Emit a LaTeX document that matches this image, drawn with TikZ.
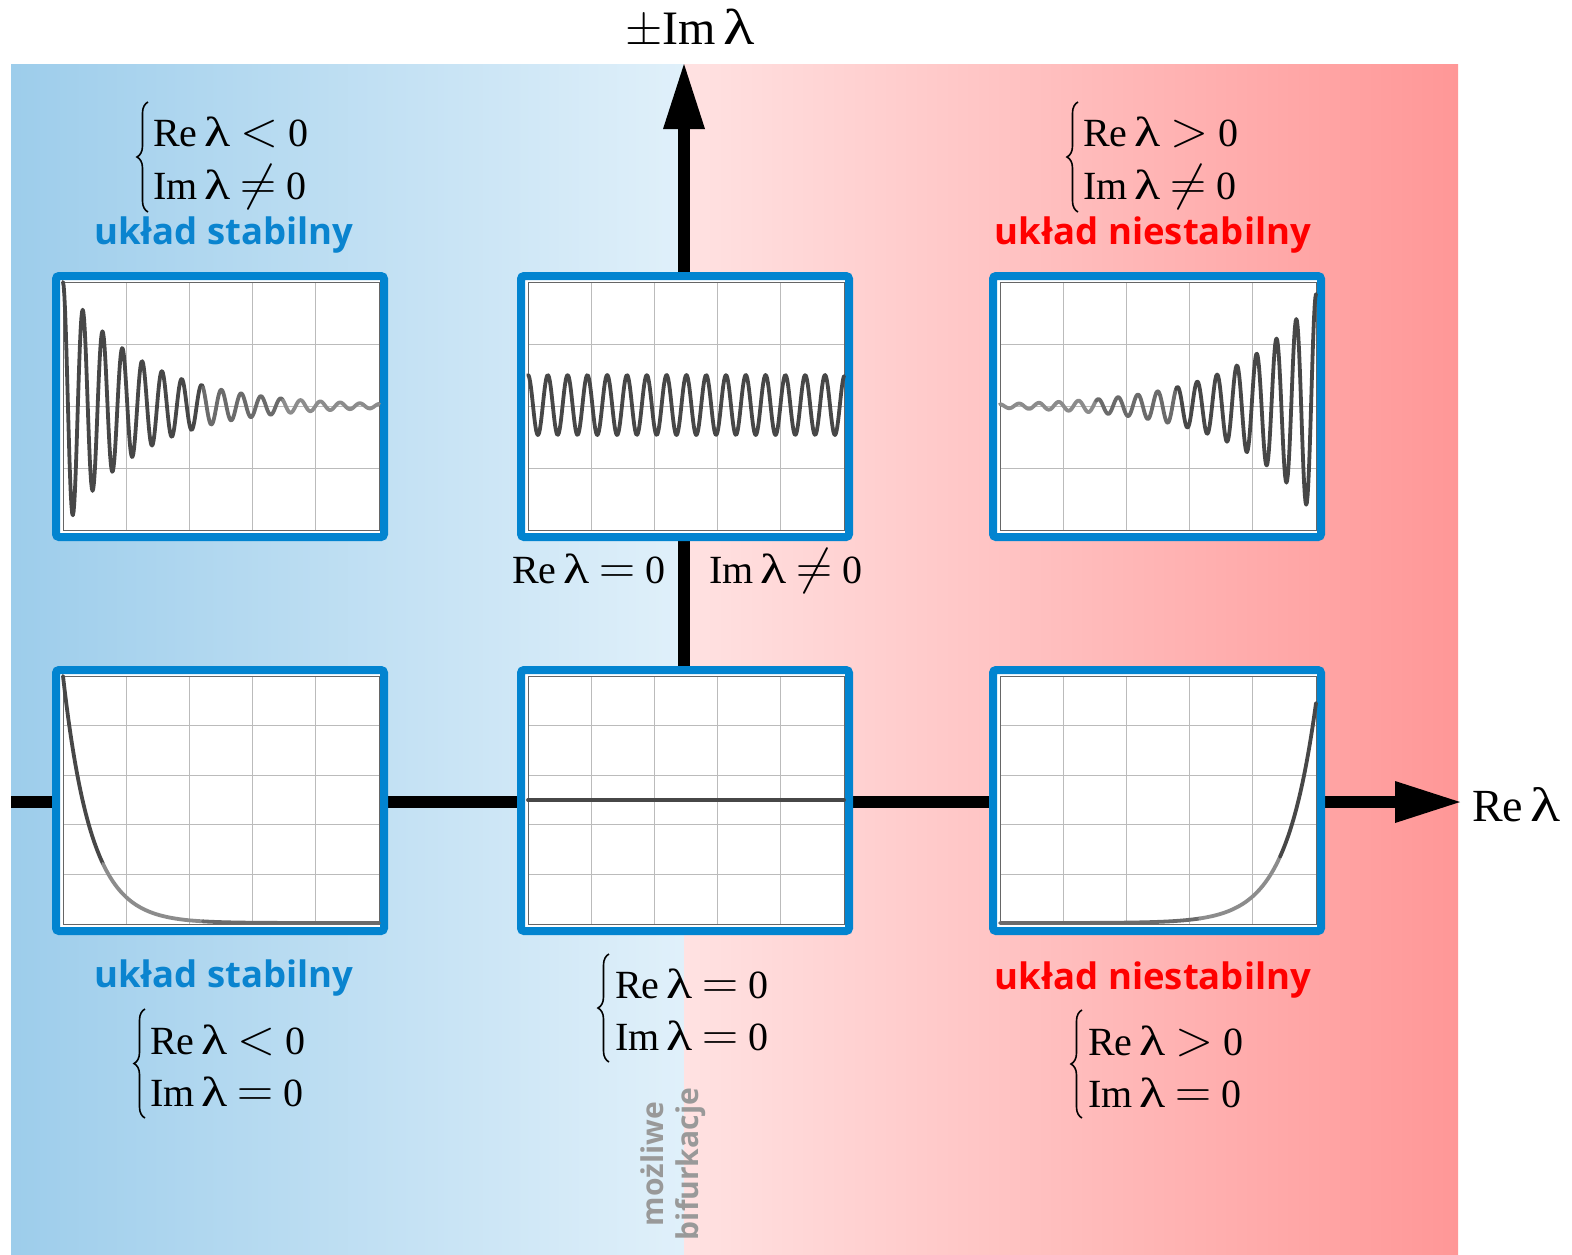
\RequirePackage{fix-cm}
\documentclass[tikz,border=0pt]{standalone}
\usepackage{fontspec}
\setmainfont{Liberation Serif}
\newfontfamily\osans{Open Sans}
\usetikzlibrary{decorations.pathreplacing}
\definecolor{bord}{HTML}{0284D0}
\definecolor{stabc}{HTML}{0A84CF}
\definecolor{unstc}{HTML}{FF0000}
\definecolor{blA}{HTML}{9DCDEB}
\definecolor{blB}{HTML}{E0F0FA}
\definecolor{rdA}{HTML}{FFE2E2}
\definecolor{rdB}{HTML}{FF9797}
\definecolor{gridc}{HTML}{BBBBBB}
\newcommand\lam{\scalebox{1.35}[1.05]{λ}}
\newcommand\rel[1]{{\fontsize{50}{50}\selectfont$#1$}}
\newcommand\panel[4]{%
\begin{scope}[shift={(#1,#2)}]
\draw[bord, line width=8pt, rounded corners=3pt, fill=white] (4,4) rectangle (332,265);
\pgfmathsetmacro\rowstep{248/#3}
\foreach \i in {1,...,4} \draw[gridline] ({11+63.2*\i},10) -- ({11+63.2*\i},258);
\foreach \j in {1,...,#3} \draw[gridline] (11,{10+\rowstep*\j}) -- (327,{10+\rowstep*\j});
\draw[black!60, line width=1pt] (11,10) rectangle (327,258);
#4
\end{scope}}
\begin{document}
\begin{tikzpicture}[x=1pt,y=-1pt,
  gridline/.style={gridc, line width=1pt},
  curvedark/.style={black!72, line width=3.8pt, line cap=round, line join=round},
  curvemid/.style={black!58, line width=3.8pt, line cap=round, line join=round},
  curvelight/.style={black!45, line width=3.8pt, line cap=round, line join=round},
  axis/.style={line width=12pt},
  serifbig/.style={font=\fontsize{40}{48}\selectfont, inner sep=0pt},
  lbl/.style={font=\osans\bfseries\fontsize{36.5}{40}\selectfont, inner sep=0pt, anchor=base},
  bracestyle/.style={decorate, decoration={brace, amplitude=11pt}, line width=1.6pt}]
\useasboundingbox (0,0) rectangle (1572,1254);
% background
\shade[left color=blA, right color=blB] (11,64) rectangle (684,1254);
\shade[left color=rdA, right color=rdB] (684,64) rectangle (1458,1254);
% axes
\coordinate (o) at (684,802);
\coordinate (xs) at (11,802);
\coordinate (xb) at (1396,802);
\coordinate (xt) at (1460,802);
\coordinate (yb) at (684,128);
\coordinate (yt) at (684,64);
\draw[axis] (xs) -- (xb);
\draw[axis] (o) -- (yb);
\fill (xt) -- (1395,781) -- (1395,823) -- cycle;
\fill (yt) -- (663,129) -- (705,129) -- cycle;
% axis labels
\node[font=\fontsize{48}{56}\selectfont, inner sep=0pt, anchor=base west] (imlab) at (625,44) {$\pm$Im\,\lam};
\node[font=\fontsize{46}{52}\selectfont, inner sep=0pt, anchor=base west] (relab) at (1472,821) {Re\,\lam};
% panels
\panel{52}{272}{4}{%
  \draw[curvedark] plot[domain=0:140,samples=200] ({11+\x},{134-124*exp(-0.0128*\x)*cos(18.1818*\x)});
  \draw[curvemid] plot[domain=140:220,samples=100] ({11+\x},{134-124*exp(-0.0128*\x)*cos(18.1818*\x)});
  \draw[curvelight] plot[domain=220:316,samples=120] ({11+\x},{134-124*exp(-0.0128*\x)*cos(18.1818*\x)});
}
\panel{517}{272}{4}{%
  \draw[curvedark] plot[domain=0:316,samples=420] ({11+\x},{133-30*cos(18.1818*\x)});
}
\panel{989}{272}{4}{%
  \draw[curvelight] plot[domain=0:96,samples=120] ({11+\x},{134-112*exp(-0.0128*(316-\x))*cos(18.1818*(316-\x))});
  \draw[curvemid] plot[domain=96:176,samples=100] ({11+\x},{134-112*exp(-0.0128*(316-\x))*cos(18.1818*(316-\x))});
  \draw[curvedark] plot[domain=176:316,samples=200] ({11+\x},{134-112*exp(-0.0128*(316-\x))*cos(18.1818*(316-\x))});
}
\panel{52}{666}{5}{%
  \draw[curvedark] plot[domain=0:40,samples=60] ({11+\x},{257-247*exp(-\x/28)});
  \draw[curvelight] plot[domain=40:140,samples=100] ({11+\x},{257-247*exp(-\x/28)});
  \draw[curvemid] plot[domain=140:316,samples=40] ({11+\x},{257-247*exp(-\x/28)});
}
\panel{517}{666}{5}{%
  \draw[curvedark] (11,134) -- (327,134);
}
\panel{989}{666}{5}{%
  \draw[curvemid] plot[domain=0:200,samples=60] ({11+\x},{257-220*exp(-(316-\x)/30)});
  \draw[curvelight] plot[domain=200:280,samples=80] ({11+\x},{257-220*exp(-(316-\x)/30)});
  \draw[curvedark] plot[domain=280:316,samples=60] ({11+\x},{257-220*exp(-(316-\x)/30)});
}
% top-left condition
\node[serifbig, anchor=base west] (tla) at (153,146) {Re\,\lam\ \rel{<} 0};
\node[serifbig, anchor=base west] (tlb) at (153,199) {Im\,\lam\ \rel{\neq} 0};
\draw[bracestyle] (148,212) -- (148,102);
\node[lbl, text=stabc] (tls) at (224,244) {układ stabilny};
% top-right condition
\node[serifbig, anchor=base west] (tra) at (1083,146) {Re\,\lam\ \rel{>} 0};
\node[serifbig, anchor=base west] (trb) at (1083,199) {Im\,\lam\ \rel{\neq} 0};
\draw[bracestyle] (1078,212) -- (1078,102);
\node[lbl, text=unstc] (tru) at (1153,244) {układ niestabilny};
% middle labels
\node[serifbig, anchor=base west] (mre) at (512,583) {Re\,\lam\ \rel{=} 0};
\node[serifbig, anchor=base west] (mim) at (709,583) {Im\,\lam\ \rel{\neq} 0};
% bottom-left
\node[lbl, text=stabc] (bls) at (224,987) {układ stabilny};
\node[serifbig, anchor=base west] (bla) at (150,1054) {Re\,\lam\ \rel{<} 0};
\node[serifbig, anchor=base west] (blb) at (150,1106) {Im\,\lam\ \rel{=} 0};
\draw[bracestyle] (145,1118) -- (145,1009);
% bottom-middle
\node[serifbig, anchor=base west] (bma) at (615,998) {Re\,\lam\ \rel{=} 0};
\node[serifbig, anchor=base west] (bmb) at (615,1050) {Im\,\lam\ \rel{=} 0};
\draw[bracestyle] (609,1062) -- (609,954);
% bottom-right
\node[lbl, text=unstc] (bru) at (1153,989) {układ niestabilny};
\node[serifbig, anchor=base west] (bra) at (1088,1055) {Re\,\lam\ \rel{>} 0};
\node[serifbig, anchor=base west] (brb) at (1088,1107) {Im\,\lam\ \rel{=} 0};
\draw[bracestyle] (1082,1118) -- (1082,1010);
% bifurcation note
\node[rotate=90, align=center, font=\osans\bfseries\fontsize{30}{35}\selectfont, text=black!40, inner sep=0pt] (bif) at (673,1164) {możliwe\\bifurkacje};
\end{tikzpicture}
\end{document}
